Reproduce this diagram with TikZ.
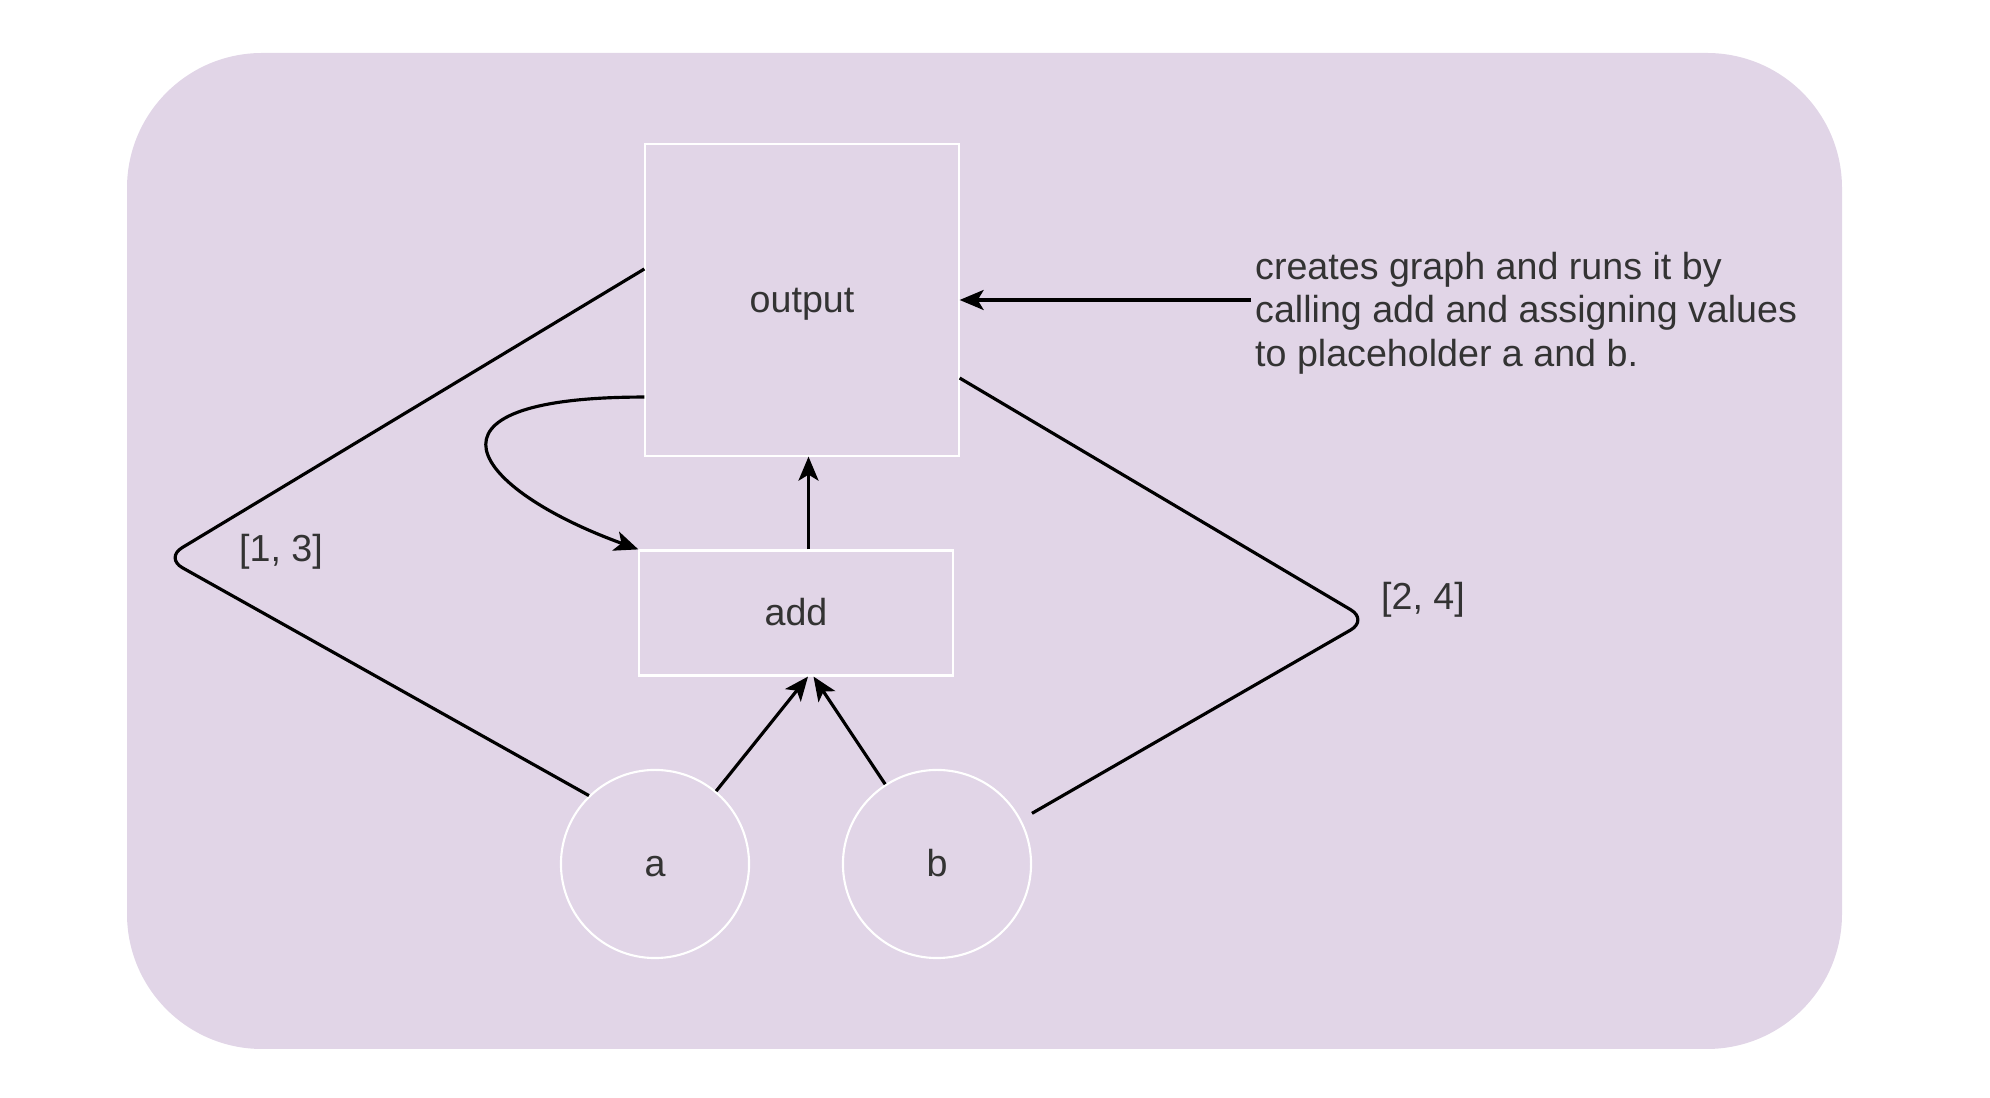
\documentclass[tikz,border=0pt]{standalone}
\usepackage{fontspec}
\setmainfont{Liberation Sans}
\usetikzlibrary{arrows.meta}
\definecolor{bgpurple}{HTML}{E1D5E7}
\definecolor{inkgray}{HTML}{333333}

\begin{document}
\begin{tikzpicture}[x=0.01cm,y=-0.01cm,
   every node/.style={font=\fontsize{10.7}{12.4}\selectfont,text=inkgray},
   oneline/.style={text height=0.905em,text depth=0.212em},
   op/.style={oneline,draw=white,line width=0.6pt,minimum width=3.13cm},
   ph/.style={oneline,draw=white,line width=0.6pt,circle,minimum size=1.88cm},
   wire/.style={line width=0.9pt,black,rounded corners=0.2cm},
   flow/.style={wire,-{Stealth[length=0.24cm,width=0.2cm,inset=0.06cm]}}]
   \useasboundingbox (0,0) rectangle (1990,1098);
   \fill[bgpurple,rounded corners=1.35cm] (127,53) rectangle (1842,1049);
   \node[op,minimum height=3.11cm](output) at (802,300){output};
   \node[op,minimum height=1.25cm](add) at (796,613){add};
   \node[ph](a) at (655,864){a};
   \node[ph](b) at (937,864){b};
   \node[align=left,anchor=west,inner sep=1pt](note) at (1251,313){creates graph and runs it by\\calling add and assigning values\\to placeholder a and b.};
   \coordinate(kinkL) at (165,558);
   \coordinate(kinkR) at (1368,620);
   \node[oneline](lblL) at (281,549){[1, 3]};
   \node[oneline](lblR) at (1423,597){[2, 4]};
   \draw[flow] (note.west |- output.east) -- (output.east);
   \draw[flow] ([xshift=0.125cm]add.north) -- ([xshift=0.125cm]add.north |- output.south);
   \draw[flow] ([yshift=-0.97cm]output.west)..controls +(-243,0) and +(-165,-60) .. (add.north west);
   \draw[flow] (a.50) -- ([xshift=0.12cm]add.south);
   \draw[flow] (b.123) -- ([xshift=0.175cm]add.south);
   \draw[wire] (a.134) -- (kinkL) -- ([yshift=0.31cm]output.west);
   \draw[wire] ([shift={(11,-6)}]b.28) -- (kinkR) -- ([yshift=-0.78cm]output.east);
\end{tikzpicture}
\end{document}
